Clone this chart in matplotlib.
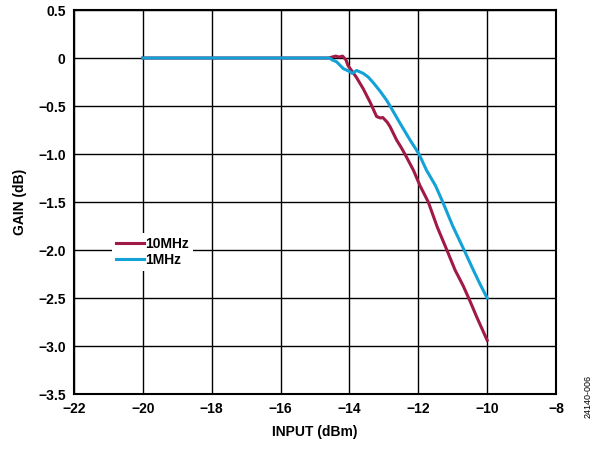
import matplotlib
matplotlib.use("Agg")
import matplotlib.pyplot as plt

plt.rcParams['font.family'] = ['Liberation Sans', 'DejaVu Sans']
plt.rcParams['font.weight'] = 'bold'

# 10MHz trace
x_10m = [-20.0, -14.6, -14.5, -14.4, -14.3, -14.2, -14.1, -14.04, -13.9,
         -13.8, -13.6, -13.4, -13.21, -13.1, -13.03, -12.9, -12.82, -12.63,
         -12.5, -12.39, -12.14, -11.95, -11.71, -11.45, -11.17, -10.93, -10.7,
         -10.5, -10.3, -10.0]
y_10m = [0.0, 0.0, 0.01, 0.02, 0.01, 0.02, -0.02, -0.08, -0.15,
         -0.2, -0.32, -0.46, -0.61, -0.625, -0.62, -0.67, -0.715, -0.854,
         -0.93, -1.0, -1.17, -1.33, -1.5, -1.76, -2.0, -2.21, -2.37,
         -2.53, -2.7, -2.94]

# 1MHz trace
x_1m = [-20.0, -14.58, -14.5, -14.37, -14.18, -14.0, -13.92, -13.79, -13.6,
        -13.45, -13.3, -13.1, -12.92, -12.82, -12.53, -12.24, -11.98, -11.76,
        -11.5, -11.29, -11.0, -10.67, -10.4, -10.2, -10.0]
y_1m = [0.0, 0.0, -0.02, -0.04, -0.11, -0.14, -0.16, -0.13, -0.16,
        -0.2, -0.26, -0.35, -0.44, -0.5, -0.68, -0.854, -1.0, -1.17,
        -1.33, -1.5, -1.75, -2.0, -2.21, -2.36, -2.5]

x_ticks = [-22, -20, -18, -16, -14, -12, -10, -8]
y_ticks = [0.5, 0, -0.5, -1.0, -1.5, -2.0, -2.5, -3.0, -3.5]
y_tick_labels = ['0.5', '0', '\u22120.5', '\u22121.0', '\u22121.5', '\u22122.0',
                 '\u22122.5', '\u22123.0', '\u22123.5']
x_tick_labels = ['\u221222', '\u221220', '\u221218', '\u221216', '\u221214',
                 '\u221212', '\u221210', '\u22128']

fig = plt.figure(figsize=(5.97, 4.51), dpi=100)
ax = fig.add_axes([74 / 597, 1 - 394 / 451, 482 / 597, 384 / 451])

ax.plot(x_10m, y_10m, color='#A01A45', lw=2.2, label='10MHz', zorder=3)
ax.plot(x_1m, y_1m, color='#12A2D8', lw=2.2, label='1MHz', zorder=3)

ax.set_xlim(-22, -8)
ax.set_ylim(-3.5, 0.5)
ax.set_xticks(x_ticks)
ax.set_xticklabels(x_tick_labels)
ax.set_yticks(y_ticks)
ax.set_yticklabels(y_tick_labels)
ax.tick_params(length=0, labelsize=10, pad=6)
ax.grid(True, color='black', lw=1.0)
for s in ax.spines.values():
    s.set_linewidth(1.5)

ax.set_xlabel('INPUT (dBm)', fontsize=10, fontweight='bold', labelpad=6)
ax.set_ylabel('GAIN (dB)', fontsize=10, fontweight='bold', labelpad=8)

leg = ax.legend(loc='upper left', bbox_to_anchor=(0.079, 0.419), borderaxespad=0,
                frameon=True, fancybox=False, framealpha=1, edgecolor='none',
                facecolor='white', handlelength=2.0, handletextpad=0.1,
                labelspacing=0.1, borderpad=0.3, fontsize=10)
leg.set_zorder(4)

fig.text(0.985, 0.12, '24140-006', rotation=90, fontsize=6.5, fontweight='normal',
         ha='center', va='center')

fig.savefig('out.png', dpi=100)
